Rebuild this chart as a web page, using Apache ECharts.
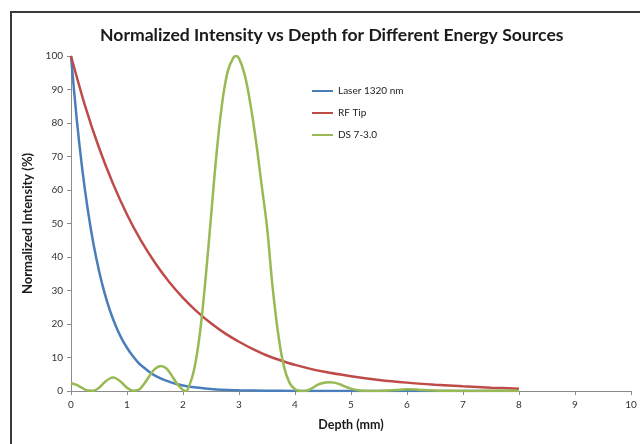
<!DOCTYPE html>
<html>
<head>
<meta charset="utf-8">
<script src="https://cdn.jsdelivr.net/npm/echarts@6/dist/echarts.min.js"></script>
<style>
  html, body { margin: 0; padding: 0; background: #fff; }
  #chart { width: 640px; height: 444px; }
</style>
</head>
<body>
<div id="chart"></div>
<script>
// Depth axis ticks (mm) and intensity ticks (%)
const depthTicks = [0, 1, 2, 3, 4, 5, 6, 7, 8, 9, 10];
const intensityTicks = [0, 10, 20, 30, 40, 50, 60, 70, 80, 90, 100];

// Laser 1320 nm
const laserDepth = [0, 0.1, 0.2, 0.3, 0.4, 0.5, 0.6, 0.7, 0.8, 0.9, 1.0, 1.1, 1.2, 1.3, 1.4, 1.5, 1.6, 1.7, 1.8, 1.9, 2.0,
  2.2, 2.4, 2.6, 2.8, 3.0, 3.5, 4.0, 4.5, 5.0, 5.5, 6.0, 6.5, 7.0, 7.5, 8.0];
const laserValues = [100, 81.5, 66.4, 54.1, 44.0, 35.9, 29.2, 23.8, 19.4, 15.8, 12.9, 10.5, 8.5, 7.0, 5.7, 4.6, 3.8, 3.1, 2.5, 2.0, 1.66,
  1.1, 0.73, 0.48, 0.32, 0.21, 0.08, 0.03, 0.01, 0, 0, 0, 0, 0, 0, 0];

// RF Tip
const rfDepth = [0, 0.25, 0.5, 0.75, 1.0, 1.25, 1.5, 1.75, 2.0, 2.25, 2.5, 2.75, 3.0, 3.25, 3.5, 3.75, 4.0,
  4.5, 5.0, 5.5, 6.0, 6.5, 7.0, 7.5, 8.0];
const rfValues = [100, 85.2, 72.6, 61.9, 52.7, 44.9, 38.3, 32.6, 27.8, 23.7, 20.2, 17.2, 14.7, 12.5, 10.6, 9.1, 7.8,
  5.8, 4.4, 3.3, 2.5, 1.9, 1.4, 1.0, 0.7];

// DS 7-3.0
const dsDepth = [0, 0.1, 0.2, 0.3, 0.4, 0.5, 0.6, 0.7, 0.75, 0.8, 0.9, 1.0, 1.1, 1.2, 1.3, 1.4, 1.5, 1.6, 1.7, 1.8, 1.9, 2.0, 2.05,
  2.1, 2.2, 2.3, 2.4, 2.5, 2.6, 2.7, 2.8, 2.9, 2.95, 3.0, 3.1, 3.2, 3.3, 3.4, 3.5, 3.6, 3.7, 3.8, 3.9, 4.0, 4.1,
  4.2, 4.3, 4.4, 4.5, 4.6, 4.7, 4.8, 4.9, 5.0, 5.1, 5.2, 5.3, 5.4, 5.6, 5.8, 6.0, 6.2, 6.4, 6.6, 6.8, 7.0, 7.5, 8.0];
const dsValues = [2.3, 1.8, 0.9, 0.15, 0.1, 1.0, 2.6, 3.8, 4.0, 3.8, 2.6, 1.0, 0.1, 0.3, 2.0, 4.5, 6.6, 7.5, 6.8, 4.6, 2.0, 0.3, 0,
  1.0, 6.5, 17, 33, 52, 71, 86, 95.5, 99.5, 100, 99.3, 94.5, 86, 75, 62, 49, 31, 17, 7.5, 2.5, 0.5, 0,
  0.1, 0.8, 1.8, 2.4, 2.6, 2.5, 2.0, 1.3, 0.7, 0.3, 0.05, 0, 0, 0.1, 0.3, 0.5, 0.4, 0.2, 0.1, 0.05, 0, 0.05, 0.05];

const pairs = (xs, ys) => xs.map((x, i) => [x, ys[i]]);

const FONT = 'Lato';
const chart = echarts.init(document.getElementById('chart'), null, { renderer: 'canvas' });

chart.setOption({
  backgroundColor: '#ffffff',
  animation: false,
  textStyle: { fontFamily: FONT },
  title: {
    text: 'Normalized Intensity vs Depth for Different Energy Sources',
    left: 95,
    top: 21,
    textStyle: { fontFamily: FONT, fontSize: 17.6, fontWeight: 'bold', color: '#1a1a1a' }
  },
  graphic: [
    {
      type: 'polyline',
      shape: { points: [[11, 444], [11, 12], [640, 12]] },
      style: { stroke: '#3a3a3a', lineWidth: 2, fill: null },
      silent: true
    }
  ],
  legend: {
    orient: 'vertical',
    left: 307,
    top: 81,
    itemWidth: 21,
    itemHeight: 2,
    itemGap: 12,
    icon: 'rect',
    textStyle: { fontFamily: FONT, fontSize: 10, color: '#222' },
    data: ['Laser 1320 nm', 'RF Tip', 'DS 7-3.0']
  },
  grid: { left: 71, right: 9, top: 56, bottom: 53, containLabel: false },
  xAxis: {
    type: 'value',
    min: depthTicks[0],
    max: depthTicks[depthTicks.length - 1],
    interval: 1,
    name: 'Depth (mm)',
    nameLocation: 'middle',
    nameGap: 27,
    nameTextStyle: { fontFamily: FONT, fontSize: 12.5, fontWeight: 'bold', color: '#1a1a1a' },
    axisLine: { lineStyle: { color: '#8c8c8c', width: 1 } },
    axisTick: { show: true, length: 4, lineStyle: { color: '#8c8c8c' } },
    axisLabel: { fontFamily: FONT, fontSize: 10, color: '#333', margin: 9 },
    splitLine: { show: false }
  },
  yAxis: {
    type: 'value',
    min: intensityTicks[0],
    max: intensityTicks[intensityTicks.length - 1],
    interval: 10,
    name: 'Normalized Intensity (%)',
    nameLocation: 'middle',
    nameGap: 26,
    nameRotate: 90,
    nameTextStyle: { fontFamily: FONT, fontSize: 13, fontWeight: 'bold', color: '#1a1a1a' },
    axisLine: { show: true, lineStyle: { color: '#8c8c8c', width: 1 } },
    axisTick: { show: true, length: 4, lineStyle: { color: '#8c8c8c' } },
    axisLabel: { fontFamily: FONT, fontSize: 10, color: '#333', margin: 8 },
    splitLine: { show: false }
  },
  series: [
    {
      name: 'Laser 1320 nm',
      type: 'line',
      data: pairs(laserDepth, laserValues),
      smooth: 0.3,
      showSymbol: false,
      itemStyle: { color: '#4a7ebb' },
      lineStyle: { color: '#4a7ebb', width: 2.5 },
      z: 3
    },
    {
      name: 'RF Tip',
      type: 'line',
      data: pairs(rfDepth, rfValues),
      smooth: 0.3,
      showSymbol: false,
      itemStyle: { color: '#be4b48' },
      lineStyle: { color: '#be4b48', width: 2.5 },
      z: 4
    },
    {
      name: 'DS 7-3.0',
      type: 'line',
      data: pairs(dsDepth, dsValues),
      smooth: 0.4,
      showSymbol: false,
      itemStyle: { color: '#98b954' },
      lineStyle: { color: '#98b954', width: 2.5 },
      z: 5
    }
  ]
});
</script>
</body>
</html>
